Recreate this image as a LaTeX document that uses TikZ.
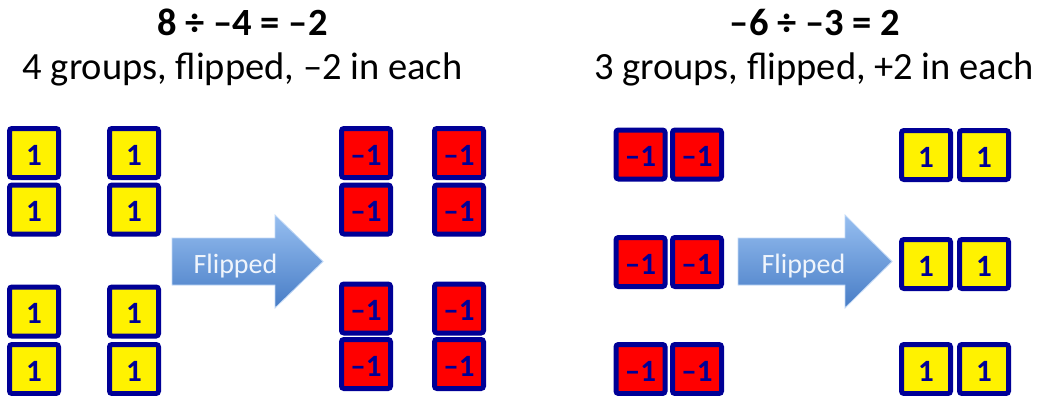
\documentclass[tikz,border=0pt]{standalone}
\usepackage{fontspec}
\setmainfont{Carlito}
\definecolor{tileblue}{RGB}{0,0,150}
\definecolor{arrowtop}{RGB}{150,190,240}
\definecolor{arrowbot}{RGB}{72,125,198}
\definecolor{fliptext}{RGB}{240,245,252}
\tikzset{
 tile/.style={draw=tileblue, line width=5pt, rounded corners=2.5pt, minimum size=49pt, inner sep=0pt, text height=24pt, text depth=0pt, text=tileblue, font=\fontsize{31}{31}\selectfont\bfseries},
 ytile/.style={tile, fill=yellow},
 rtile/.style={tile, fill=red},
 title/.style={anchor=base, font=\fontsize{38.5}{38.5}\selectfont\bfseries},
 subtitle/.style={anchor=base, font=\fontsize{38.5}{38.5}\selectfont},
 flip/.style={top color=arrowtop, bottom color=arrowbot, draw=arrowtop!60!white, line width=0.8pt},
 fliplabel/.style={anchor=base, text=fliptext, font=\fontsize{28}{28}\selectfont}
}
\begin{document}
\begin{tikzpicture}[x=1pt,y=-1pt]
\useasboundingbox (0,0) rectangle (1042,396);
% titles
\node[title] (t1) at (242.5,36) {8 ÷ \textendash4 = \textendash2};
\node[subtitle] (s1) at (242.5,80) {4 groups, flipped, \textendash2 in each};
\node[title] (t2) at (815,36) {\textendash6 ÷ \textendash3 = 2};
\node[subtitle] (s2) at (814,80) {3 groups, flipped, +2 in each};
% left yellow tiles
\foreach \x/\c in {34/a,134/b}{
  \foreach \y/\r in {153/1,209.5/2,311.5/3,369/4}{
    \node[ytile] (ly\c\r) at (\x,\y) {1};
  }
}
% left red tiles
\foreach \x/\c in {366/a,459/b}{
  \foreach \y/\r in {153/1,209.5/2,308.5/3,364/4}{
    \node[rtile] (lr\c\r) at (\x,\y) {\textendash1};
  }
}
% right red tiles
\foreach \x/\c in {640.5/a,697/b}{
  \foreach \y/\r in {154.5/1,262/2,369/3}{
    \node[rtile] (rr\c\r) at (\x,\y) {\textendash1};
  }
}
% right yellow tiles
\foreach \x/\c in {926/a,984/b}{
  \foreach \y/\r in {155/1,264/2,369/3}{
    \node[ytile] (ry\c\r) at (\x,\y) {1};
  }
}
% arrows
\shade[flip] (172,238) -- (275,238) -- (275,215) -- (323,261.5) -- (275,308) -- (275,285) -- (172,285) -- cycle;
\node[fliplabel] (f1) at (235.5,273) {Flipped};
\shade[flip] (738,238) -- (845,238) -- (845,215) -- (892,261.5) -- (845,308) -- (845,285) -- (738,285) -- cycle;
\node[fliplabel] (f2) at (803.5,273) {Flipped};
\end{tikzpicture}
\end{document}
